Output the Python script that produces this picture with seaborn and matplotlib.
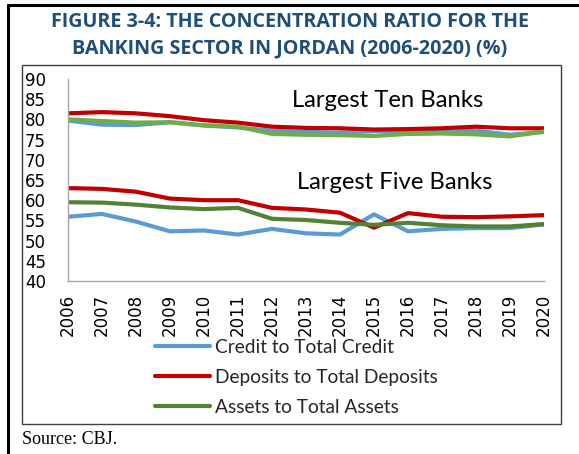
import matplotlib
matplotlib.use("Agg")
import matplotlib.pyplot as plt
import seaborn as sns
import pandas as pd
from matplotlib.lines import Line2D
from matplotlib.patches import Rectangle

years = list(range(2006, 2021))

# Largest ten banks (%)
ten_credit = [79.7, 78.7, 78.6, 79.3, 78.5, 78.0, 77.2, 76.9, 76.7, 77.1, 76.9, 76.9, 77.2, 76.2, 76.9]
ten_deposits = [81.5, 81.8, 81.5, 80.8, 79.8, 79.2, 78.2, 77.9, 77.8, 77.5, 77.6, 77.8, 78.2, 77.8, 77.8]
ten_assets = [80.0, 79.6, 79.2, 79.3, 78.5, 78.2, 76.4, 76.2, 76.1, 75.9, 76.4, 76.5, 76.3, 75.8, 77.0]

# Largest five banks (%)
five_credit = [55.9, 56.6, 54.7, 52.3, 52.5, 51.5, 52.9, 51.8, 51.5, 56.5, 52.3, 52.9, 53.1, 53.1, 54.0]
five_deposits = [63.0, 62.8, 62.1, 60.4, 60.0, 60.0, 58.1, 57.7, 56.9, 53.2, 56.8, 55.9, 55.8, 56.0, 56.3]
five_assets = [59.5, 59.4, 58.9, 58.2, 57.8, 58.1, 55.4, 55.1, 54.4, 53.9, 54.4, 53.8, 53.5, 53.5, 54.1]

series_names = ["Credit to Total Credit", "Deposits to Total Deposits", "Assets to Total Assets"]
y_ticks = list(range(40, 95, 5))

sns.set_style("white")
plt.rcParams["font.family"] = ["DejaVu Sans"]

BLUE = "#5B9BD5"
RED = "#C00000"
GREEN_LIGHT = "#70AD47"
GREEN_DARK = "#548235"
AXIS_GREY = "#A6A6A6"

fig = plt.figure(figsize=(5.79, 4.54), dpi=100)
ax = fig.add_axes([68 / 579, 1 - 281 / 454, (544 - 68) / 579, (281 - 79) / 454])

def frame(group, values):
    return pd.DataFrame({"year": years, "value": values, "series": group})

ten_df = pd.concat([frame(n, v) for n, v in zip(series_names, [ten_credit, ten_deposits, ten_assets])])
five_df = pd.concat([frame(n, v) for n, v in zip(series_names, [five_credit, five_deposits, five_assets])])

sns.lineplot(data=ten_df, x="year", y="value", hue="series", hue_order=series_names,
             palette=[BLUE, RED, GREEN_LIGHT], linewidth=3.0, legend=False, ax=ax)
sns.lineplot(data=five_df, x="year", y="value", hue="series", hue_order=series_names,
             palette=[BLUE, RED, GREEN_DARK], linewidth=3.0, legend=False, ax=ax)

ax.set_xlim(2006, 2020)
ax.set_ylim(40, 90)
ax.set_xticks(years)
ax.set_xticklabels([str(y) for y in years], rotation=90, fontsize=12)
ax.set_yticks(y_ticks)
ax.set_yticklabels([str(t) for t in y_ticks], fontsize=12)
ax.set_xlabel("")
ax.set_ylabel("")

for side in ["top", "right"]:
    ax.spines[side].set_visible(False)
for side in ["left", "bottom"]:
    ax.spines[side].set_color(AXIS_GREY)
    ax.spines[side].set_linewidth(1.0)
ax.tick_params(axis="both", which="both", direction="out", color=AXIS_GREY,
               length=6, width=1.0, labelcolor="black", pad=2)
ax.tick_params(axis="y", pad=10)
ax.tick_params(axis="x", pad=3)

ax.text(2015.4, 84.8, "Largest Ten Banks", fontsize=17.2, family="Lato",
        ha="center", va="center", color="black")
ax.text(2015.6, 64.5, "Largest Five Banks", fontsize=17.2, family="Lato",
        ha="center", va="center", color="black")

handles = [Line2D([], [], color=c, linewidth=3.0) for c in [BLUE, RED, GREEN_DARK]]
fig.legend(handles, series_names, loc="upper left",
           bbox_to_anchor=(155 / 579, 1 - 339 / 454), frameon=False,
           prop={"family": "Lato", "size": 13.8}, handlelength=2.85,
           handletextpad=0.28, labelspacing=0.68, borderaxespad=0, borderpad=0)

# Outer page frame (left and top rules) and inner chart box
fig.add_artist(Line2D([8 / 579, 8 / 579], [0, 1 - 5 / 454], transform=fig.transFigure,
                      color="black", linewidth=2.2))
fig.add_artist(Line2D([8 / 579, 1], [1 - 5 / 454, 1 - 5 / 454], transform=fig.transFigure,
                      color="black", linewidth=2.2))
fig.add_artist(Rectangle((22 / 579, 1 - 424 / 454), (561 - 22) / 579, (424 - 65) / 454,
                         transform=fig.transFigure, fill=False, edgecolor="#404040",
                         linewidth=1.0))

fig.text(290 / 579, 1 - 22 / 454, "FIGURE 3-4: THE CONCENTRATION RATIO FOR THE",
         fontsize=14.2, fontweight="bold", family="Open Sans", color="#1F4E79",
         ha="center", va="center")
fig.text(290 / 579, 1 - 48 / 454, "BANKING SECTOR IN JORDAN (2006-2020) (%)",
         fontsize=14.2, fontweight="bold", family="Open Sans", color="#1F4E79",
         ha="center", va="center")

fig.text(22 / 579, 1 - 440 / 454, "Source: CBJ.", fontsize=13.0,
         family="Liberation Serif", color="black", ha="left", va="center")

fig.savefig("out.png", dpi=100)
